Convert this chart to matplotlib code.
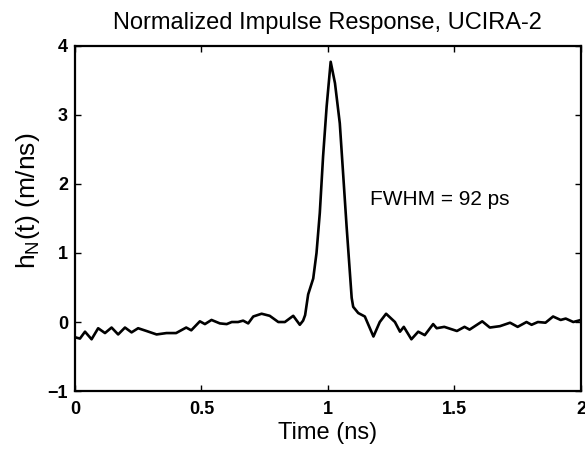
# Normalized impulse response of the UCIRA-2 antenna

import matplotlib
matplotlib.use("Agg")
import matplotlib.pyplot as plt

plt.rcParams['font.family'] = ['Liberation Sans', 'DejaVu Sans']

# values
time_ns = [0.0, 0.02, 0.04, 0.066, 0.092, 0.119, 0.145, 0.171, 0.198, 0.224,
           0.25, 0.283, 0.323, 0.362, 0.40, 0.44, 0.46, 0.494, 0.514, 0.54,
           0.573, 0.60, 0.62, 0.645, 0.665, 0.685, 0.705, 0.738, 0.77, 0.804,
           0.83, 0.863, 0.889, 0.902, 0.91, 0.922, 0.942, 0.955, 0.968, 0.981,
           0.995, 1.011, 1.028, 1.047, 1.06, 1.074, 1.087, 1.094, 1.10, 1.12,
           1.146, 1.18, 1.205, 1.23, 1.265, 1.285, 1.30, 1.33, 1.357, 1.383,
           1.416, 1.43, 1.46, 1.51, 1.54, 1.56, 1.61, 1.64, 1.68, 1.72,
           1.75, 1.785, 1.805, 1.83, 1.86, 1.89, 1.92, 1.94, 1.97, 2.0]
h_norm = [-0.22, -0.24, -0.14, -0.25, -0.09, -0.16, -0.08, -0.18, -0.08, -0.15,
          -0.09, -0.13, -0.18, -0.16, -0.16, -0.08, -0.12, 0.01, -0.03, 0.03,
          -0.02, -0.03, 0.0, 0.0, 0.02, -0.02, 0.08, 0.12, 0.09, 0.0,
          0.0, 0.09, -0.04, 0.02, 0.10, 0.40, 0.63, 1.0, 1.58, 2.40,
          3.12, 3.77, 3.46, 2.88, 2.16, 1.38, 0.71, 0.35, 0.22, 0.13,
          0.08, -0.21, 0.0, 0.12, 0.0, -0.14, -0.07, -0.25, -0.14, -0.19,
          -0.03, -0.09, -0.07, -0.13, -0.07, -0.11, 0.01, -0.08, -0.06, -0.01,
          -0.07, 0.0, -0.04, 0.0, -0.01, 0.08, 0.03, 0.05, 0.0, 0.03]

x_ticks = [0, 0.5, 1, 1.5, 2]
x_tick_labels = ['0', '0.5', '1', '1.5', '2']
y_ticks = [-1, 0, 1, 2, 3, 4]

fig = plt.figure(figsize=(5.85, 4.5), dpi=100)
ax = fig.add_axes([0.128, 0.131, 0.865, 0.767])
ax.plot(time_ns, h_norm, color='black', linewidth=1.9)

ax.set_xlim(0, 2)
ax.set_ylim(-1, 4)
ax.set_xticks(x_ticks)
ax.set_xticklabels(x_tick_labels)
ax.set_yticks(y_ticks)
ax.tick_params(direction='in', top=True, right=True, length=4, width=1,
               labelsize=13)
ax.tick_params(axis='x', pad=7)
ax.tick_params(axis='y', pad=5)
for lab in ax.get_xticklabels() + ax.get_yticklabels():
    lab.set_fontweight('bold')
for spine in ax.spines.values():
    spine.set_linewidth(1.6)

ax.set_title('Normalized Impulse Response, UCIRA-2', fontsize=17, pad=12)
ax.set_xlabel('Time (ns)', fontsize=17, labelpad=3)
ax.set_ylabel(r'h$_\mathregular{N}$(t) (m/ns)', fontsize=19)
ax.yaxis.set_label_coords(-0.065, 0.55)
ax.text(1.166, 1.78, 'FWHM = 92 ps', fontsize=15, va='center')

fig.savefig('out.png', dpi=100)
